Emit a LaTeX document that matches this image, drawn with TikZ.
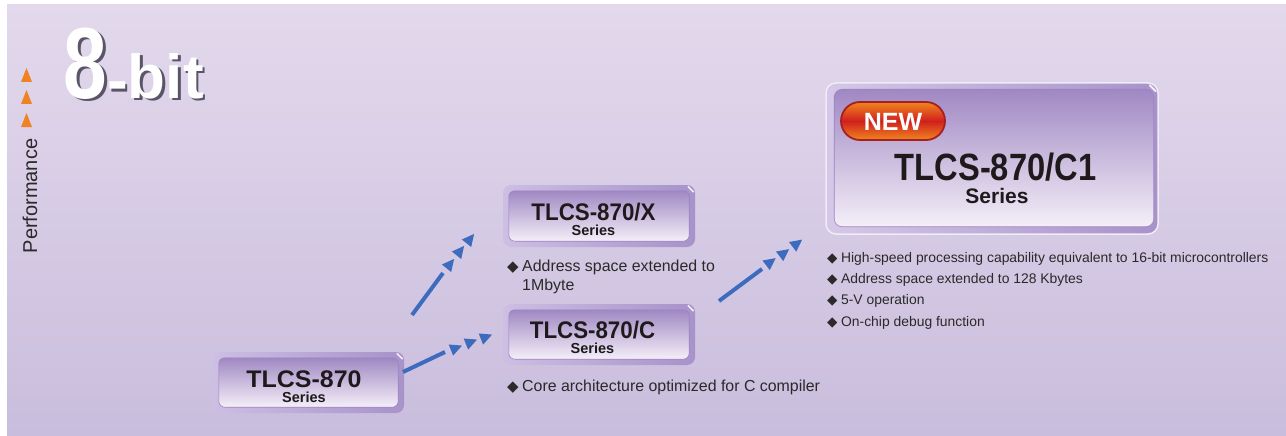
\documentclass[tikz,border=0pt]{standalone}
\usepackage{fontspec}
\setmainfont{Liberation Sans}
\newfontfamily\dejavu{DejaVu Sans}
\usetikzlibrary{calc,shapes.geometric}
\definecolor{panelTop}{HTML}{E3D9EC}
\definecolor{panelBot}{HTML}{C9BDDD}
\definecolor{frameL}{HTML}{CDBEE3}
\definecolor{frameR}{HTML}{A892CA}
\definecolor{faceTop}{HTML}{A088C3}
\definecolor{faceBot}{HTML}{F4EFF8}
\definecolor{faceLine}{HTML}{9C84C0}
\definecolor{arrowblue}{HTML}{3D6CBF}
\definecolor{perfOrange}{HTML}{F08224}
\definecolor{textDark}{HTML}{1E1A1C}
\definecolor{bodyText}{HTML}{2B2929}
\definecolor{shadowGray}{HTML}{5A5468}
\definecolor{newOrange}{HTML}{F0861E}
\definecolor{newRed}{HTML}{D0201E}
\definecolor{newLine}{HTML}{A51F24}
\newcommand{\bdia}[1]{{\dejavu\fontsize{#1}{#1}\selectfont ◆}\hspace{3.5pt}}
\begin{document}
\begin{tikzpicture}[x=1pt,y=-1pt,
  frame/.style={shade, left color=frameL, right color=frameR, rounded corners=8pt, inner sep=0pt},
  face/.style={shade, top color=faceTop, bottom color=faceBot, draw=faceLine, line width=0.6pt, rounded corners=6pt},
  title/.style={font=\bfseries\fontsize{24}{24}\selectfont, text=textDark, inner sep=0pt, anchor=base},
  series/.style={font=\bfseries\fontsize{14.5}{14.5}\selectfont, text=textDark, inner sep=0pt, anchor=base},
  bullet/.style={font=\fontsize{15.9}{15.9}\selectfont, text=bodyText, inner sep=0pt, anchor=base west},
  bulletsm/.style={font=\fontsize{13.9}{13.9}\selectfont, text=bodyText, inner sep=0pt, anchor=base west},
  arrowline/.style={draw=arrowblue, line width=4pt},
  tri/.pic={\fill[arrowblue] (6.5,0)--(-5.5,6)--(-5.5,-6)--cycle;},
  hilite/.style={draw=white, line width=1.6pt, opacity=0.85, line cap=round}
]
\useasboundingbox (0,0) rectangle (1286,436);
\fill[white] (0,0) rectangle (1286,436);
\shade[top color=panelTop, bottom color=panelBot] (7,5) rectangle (1286,436);

% 8-bit title
\node[anchor=base west, inner sep=0pt, text=shadowGray] (bitshadow) at (66,101)
  {\bfseries\fontsize{98}{98}\selectfont\scalebox{0.8}[1.03]{8}\fontsize{62}{62}\selectfont\raisebox{-3pt}{-}bit};
\node[anchor=base west, inner sep=0pt, text=white] (bittitle) at (63.5,98.5)
  {\bfseries\fontsize{98}{98}\selectfont\scalebox{0.8}[1.03]{8}\fontsize{62}{62}\selectfont\raisebox{-3pt}{-}bit};

% performance axis
\fill[perfOrange] (21,82)--(32,82)--(26.5,68)--cycle;
\fill[perfOrange] (21,104)--(32,104)--(26.5,90)--cycle;
\fill[perfOrange] (21,127)--(32,127)--(26.5,113)--cycle;
\node[rotate=90, font=\fontsize{20}{20}\selectfont, text=bodyText, inner sep=0pt] (perf) at (30,196) {Performance};

% TLCS-870
\node[frame, minimum width=191pt, minimum height=61pt] (b870) at (308.5,382.5) {};
\path[face] ($(b870.north west)+(6,6)$) rectangle ($(b870.south east)+(-6,-6)$);
\draw[hilite] ($(b870.north east)+(-7,2)$) -- ($(b870.north east)+(-2,7)$);
\node[title] (t870) at (304,387) {\scalebox{1.04}[1]{TLCS-870}};
\node[series] (s870) at (304,402) {Series};

% TLCS-870/X
\node[frame, minimum width=192pt, minimum height=62pt] (bX) at (599,216) {};
\path[face] ($(bX.north west)+(6,6)$) rectangle ($(bX.south east)+(-6,-6)$);
\draw[hilite] ($(bX.north east)+(-7,2)$) -- ($(bX.north east)+(-2,7)$);
\node[title] (tX) at (593.5,220) {\scalebox{0.93}[1]{TLCS-870/X}};
\node[series] (sX) at (593.5,235) {Series};

% TLCS-870/C
\node[frame, minimum width=192pt, minimum height=61pt] (bC) at (599,334.5) {};
\path[face] ($(bC.north west)+(6,6)$) rectangle ($(bC.south east)+(-6,-6)$);
\draw[hilite] ($(bC.north east)+(-7,2)$) -- ($(bC.north east)+(-2,7)$);
\node[title] (tC) at (592.5,338) {\scalebox{0.93}[1]{TLCS-870/C}};
\node[series] (sC) at (592.5,353) {Series};

% TLCS-870/C1
\node[frame, left color=frameL!85!white, right color=frameR, draw=white!70!frameL, line width=1.5pt, rounded corners=10pt, minimum width=332pt, minimum height=151pt] (bC1) at (992,158.5) {};
\path[face, rounded corners=8pt] ($(bC1.north west)+(9,7)$) rectangle ($(bC1.south east)+(-5,-8)$);
\draw[hilite, line width=2pt] ($(bC1.north east)+(-9,3)$) -- ($(bC1.north east)+(-3,9)$);
\node[draw=newLine, line width=1.8pt, rounded corners=19pt, top color=newOrange, bottom color=newOrange, middle color=newRed, minimum width=104pt, minimum height=38pt, inner sep=0pt] (new) at (893,121) {};
\node[font=\bfseries\fontsize{25}{25}\selectfont, text=white, inner sep=0pt] (newtext) at (893,122) {NEW};
\node[title, font=\bfseries\fontsize{38}{38}\selectfont] (tC1) at (995.5,180) {\scalebox{0.86}[1]{TLCS-870/C1}};
\node[series, font=\bfseries\fontsize{21}{21}\selectfont] (sC1) at (997,203) {Series};

% bullets
\node[bullet] (dX1) at (507,271.5) {\bdia{15}Address space extended to};
\node[bullet] (dX2) at (522,290.5) {1Mbyte};
\node[bullet] (dC1) at (507,391.5) {\bdia{15}Core architecture optimized for C compiler};
\node[bulletsm] (n1) at (827,262.5) {\bdia{13.5}High-speed processing capability equivalent to 16-bit microcontrollers};
\node[bulletsm] (n2) at (827,283.5) {\bdia{13.5}Address space extended to 128 Kbytes};
\node[bulletsm] (n3) at (827,304.5) {\bdia{13.5}5-V operation};
\node[bulletsm] (n4) at (827,326) {\bdia{13.5}On-chip debug function};

% arrows
\coordinate (a1s) at (412,315);
\coordinate (a1e) at (443,273);
\draw[arrowline] (a1s) -- (a1e);
\pic[rotate=51] at (450,264) {tri};
\pic[rotate=51] at (460,251) {tri};
\pic[rotate=51] at (470,239) {tri};

\coordinate (a2s) at (403,372);
\coordinate (a2e) at (445,352);
\draw[arrowline] (a2s) -- (a2e);
\pic[rotate=22] at (456,348) {tri};
\pic[rotate=22] at (471,342) {tri};
\pic[rotate=22] at (486,337) {tri};

\coordinate (a3s) at (719,301);
\coordinate (a3e) at (762,269);
\draw[arrowline] (a3s) -- (a3e);
\pic[rotate=37] at (770.5,262) {tri};
\pic[rotate=37] at (784,253) {tri};
\pic[rotate=37] at (797,243.5) {tri};
\end{tikzpicture}
\end{document}
